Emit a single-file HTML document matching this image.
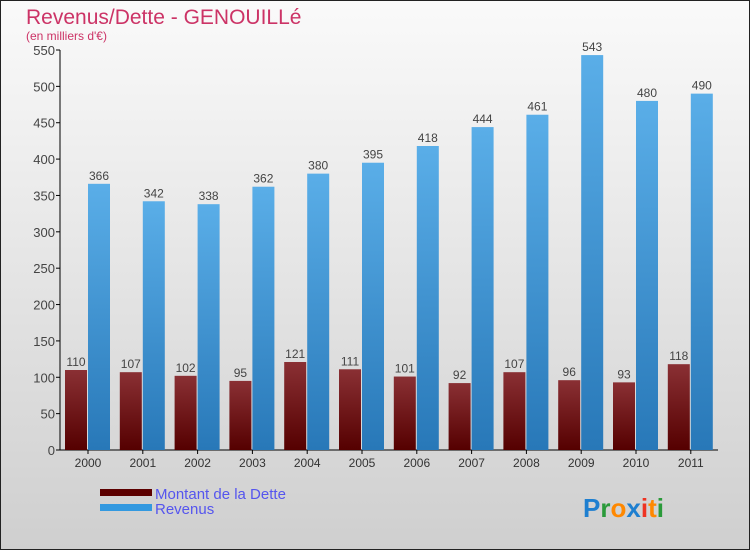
<!DOCTYPE html>
<html><head><meta charset="utf-8"><style>
body{margin:0;width:750px;height:550px;overflow:hidden;font-family:"Liberation Sans",sans-serif}
</style></head><body>
<svg width="750" height="550" viewBox="0 0 750 550">
<defs>
<linearGradient id="bg" x1="0" y1="0" x2="0" y2="1"><stop offset="0" stop-color="#fafafa"/><stop offset="1" stop-color="#cfcfcf"/></linearGradient>
<linearGradient id="gd" x1="0" y1="0" x2="0" y2="1"><stop offset="0" stop-color="#8a3034"/><stop offset="1" stop-color="#550000"/></linearGradient>
<linearGradient id="gr" x1="0" y1="0" x2="0" y2="1"><stop offset="0" stop-color="#5aaee8"/><stop offset="1" stop-color="#2878b8"/></linearGradient>
</defs>
<rect x="0.5" y="0.5" width="749" height="549" fill="url(#bg)" stroke="#222"/>
<text x="26" y="24" font-size="21" fill="#cc3366">Revenus/Dette - GENOUILLé</text>
<text x="26" y="40" font-size="12" fill="#cc3366">(en milliers d'€)</text>
<g id="axes"></g>
<g id="bars"></g>
<g>
<rect x="100" y="489" width="52" height="7" fill="#5c0000"/>
<text x="155" y="499" font-size="15" fill="#5555ee">Montant de la Dette</text>
<rect x="100" y="504" width="52" height="7" fill="#3399e0"/>
<text x="155" y="514" font-size="15" fill="#5555ee">Revenus</text>
</g>
<text x="583" y="517" font-size="26" font-weight="bold"><tspan fill="#1e7fd0">P</tspan><tspan fill="#2a9a3a">r</tspan><tspan fill="#ff8800">o</tspan><tspan fill="#1e7fd0">x</tspan><tspan fill="#ee3322">i</tspan><tspan fill="#ff8800">t</tspan><tspan fill="#2a9a3a">i</tspan></text>
</svg>
<script>
const years=["2000","2001","2002","2003","2004","2005","2006","2007","2008","2009","2010","2011"];
const dette=[110,107,102,95,121,111,101,92,107,96,93,118];
const revenus=[366,342,338,362,380,395,418,444,461,543,480,490];
const yTicks=[0,50,100,150,200,250,300,350,400,450,500,550];
const NS="http://www.w3.org/2000/svg";
const y=v=>450-v*400/550;
const xc=i=>88+i*54.8;
function mk(t,a,p,txt){const e=document.createElementNS(NS,t);for(const k in a)e.setAttribute(k,a[k]);if(txt!==undefined)e.textContent=txt;p.appendChild(e);return e;}
const ax=document.getElementById('axes'),bg=document.getElementById('bars');
let l=mk('line',{x1:60,y1:50,x2:60,y2:450,stroke:'#000'},ax);


l=mk('line',{x1:60,y1:450,x2:718,y2:450,stroke:'#000'},ax);


yTicks.forEach(v=>{
 mk('line',{x1:56,y1:y(v),x2:60,y2:y(v),stroke:'#000'},ax);
 const t=mk('text',{x:55,y:y(v)+5,'font-size':13,'text-anchor':'end',fill:'#444'},ax,v);
 
 
});
years.forEach((yr,i)=>{
 const c=xc(i);
 mk('line',{x1:c,y1:450,x2:c,y2:454,stroke:'#000'},ax);
 const t=mk('text',{x:c,y:467,'font-size':12,'text-anchor':'middle',fill:'#333'},ax,yr);
 
 
 const d=mk('rect',{x:c-23,y:y(dette[i]),width:22,height:450-y(dette[i]),fill:'url(#gd)'},bg);
 
 
 const r=mk('rect',{x:c,y:y(revenus[i]),width:22,height:450-y(revenus[i]),fill:'url(#gr)'},bg);
 
 
 const ld=mk('text',{x:c-12,y:y(dette[i])-4,'font-size':12,'text-anchor':'middle',fill:'#444'},bg,dette[i]);
 
 
 const lr=mk('text',{x:c+11,y:y(revenus[i])-4,'font-size':12,'text-anchor':'middle',fill:'#444'},bg,revenus[i]);
 
 
});
</script>
</body></html>
